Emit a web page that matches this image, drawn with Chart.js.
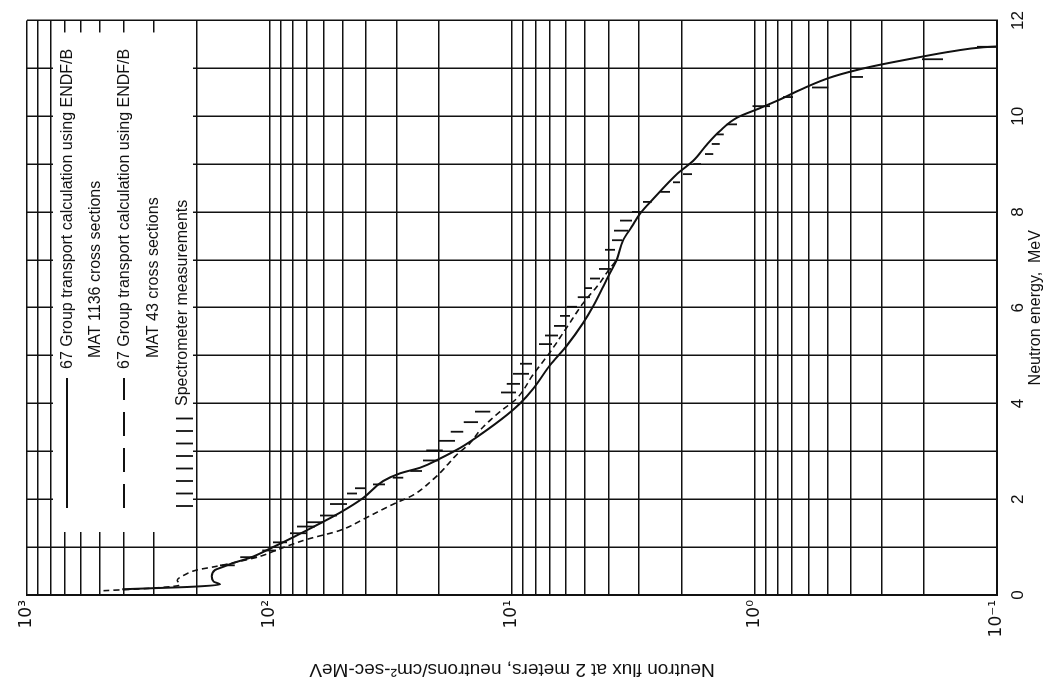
<!DOCTYPE html>
<html>
<head>
<meta charset="utf-8">
<script src="https://cdn.jsdelivr.net/npm/chart.js@4.4.0/dist/chart.umd.min.js"></script>
<style>
  html, body { margin: 0; padding: 0; background: #fff; overflow: hidden; }
  /* the figure is printed sideways: draw it upright, then turn it a quarter turn */
  #wrap {
    position: absolute; left: 0; top: 0;
    width: 688px; height: 1057px;
    transform-origin: 0 0;
    transform: translate(0, 688px) rotate(-90deg);
  }
</style>
</head>
<body>
<div id="wrap"><canvas id="fluxChart" width="688" height="1057"></canvas></div>
<script>
// 67 group transport, ENDF/B MAT 1136 (solid)
const solidEnergy = [0.12, 0.14, 0.17, 0.22, 0.28, 0.39, 0.52, 0.59, 0.67, 0.78,
  0.97, 1.10, 1.35, 1.72, 2.03, 2.38, 2.54, 2.66, 2.85, 3.07,
  3.35, 3.76, 4.00, 4.31, 4.80, 5.21, 5.69, 6.04, 6.59, 7.00,
  7.41, 7.69, 7.97, 8.28, 8.79, 9.07, 9.41, 9.69, 9.97, 10.17,
  10.35, 10.55, 10.83, 11.03, 11.21, 11.36, 11.44, 11.46]
const solidFlux = [405, 311, 213, 160, 170, 173, 168, 155, 141, 120,
  99.5, 88, 70.3, 51.2, 41.0, 34.0, 29.0, 23.9, 19.8, 16.4,
  13.5, 10.5, 9.27, 8.17, 6.97, 5.94, 5.08, 4.62, 4.07, 3.70,
  3.48, 3.21, 2.96, 2.61, 2.09, 1.79, 1.57, 1.39, 1.18, 0.948,
  0.785, 0.649, 0.473, 0.334, 0.221, 0.151, 0.114, 0.097]

// 67 group transport, ENDF/B MAT 43 (dashed)
const dashedEnergy = [0.09, 0.14, 0.21, 0.31, 0.41, 0.52, 0.60, 0.69, 0.81, 0.94,
  1.16, 1.35, 1.62, 1.90, 2.09, 2.42, 2.55, 2.93, 3.17, 3.45,
  3.83, 4.10, 4.61, 5.07, 5.59, 6.10, 6.52, 6.79, 7.00]
const dashedFlux = [484, 311, 234, 240, 226, 200, 165, 136, 109, 93.3,
  70.3, 51.2, 39.7, 30.8, 25.5, 21.1, 19.8, 16.9, 14.9, 13.5,
  11.2, 9.58, 8.17, 6.97, 5.94, 5.08, 4.34, 3.99, 3.70]

// spectrometer measurements: each one is a bar from high to low flux
const measEnergy = [0.62, 0.79, 0.93, 1.10, 1.29, 1.43, 1.52, 1.66, 1.90, 2.12,
  2.23, 2.31, 2.45, 2.59, 2.81, 3.02, 3.22, 3.41, 3.61, 3.83,
  4.23, 4.41, 4.62, 4.83, 5.24, 5.42, 5.62, 5.83, 6.02, 6.22,
  6.41, 6.61, 6.81, 7.21, 7.41, 7.61, 7.82, 8.00, 8.21, 8.42,
  8.62, 8.79, 9.00, 9.21, 9.42, 9.62, 9.83, 10.21, 10.40, 10.60,
  10.82, 11.19, 11.45]
const measFluxHigh = [160, 132, 107, 96.8, 82.3, 77.1, 70.0, 61.9, 56.3, 47.9,
  44.4, 37.4, 31.0, 26.3, 23.3, 22.6, 20.0, 17.9, 15.8, 14.2,
  11.1, 10.5, 9.91, 9.27, 7.74, 7.31, 6.71, 6.34, 5.93, 5.35,
  5.05, 4.77, 4.38, 4.14, 3.87, 3.80, 3.59, 3.20, 2.88, 2.45,
  2.17, 1.97, 1.79, 1.60, 1.50, 1.43, 1.30, 1.02, 0.763, 0.579,
  0.404, 0.204, 0.121]
const measFluxLow = [139, 113, 94, 84.7, 70.0, 64.9, 60.2, 52.7, 47.9, 43.6,
  40.0, 33.4, 28.1, 23.5, 20.2, 19.3, 17.2, 15.9, 13.8, 12.3,
  9.63, 9.27, 8.51, 8.27, 6.84, 6.46, 5.99, 5.77, 5.40, 4.77,
  4.68, 4.34, 3.91, 3.76, 3.52, 3.32, 3.20, 2.91, 2.65, 2.23,
  2.03, 1.81, 1.66, 1.48, 1.39, 1.34, 1.18, 0.863, 0.694, 0.497,
  0.357, 0.167, 0.100]

// axes
const fluxTickValues = [0.1, 1, 10, 100, 1000]
const fluxTickLabels = ["10\u207B\u00B9", "10\u2070", "10\u00B9", "10\u00B2", "10\u00B3"]
const energyTickLabels = [0, 2, 4, 6, 8, 10, 12]

const legendLines = [
  ["67 Group transport calculation using ENDF/B", "MAT 1136 cross sections"],
  ["67 Group transport calculation using ENDF/B", "MAT 43 cross sections"],
  ["Spectrometer measurements"],
]

const INK = "#111"
const FONT = "'Liberation Sans', Arial, sans-serif"

// full log grid: 1..9 in every decade
const fluxGrid = []
fluxTickValues.slice(0, -1).forEach((d) => {
  for (let m = 1; m < 10; m++) fluxGrid.push(+(m * d).toPrecision(3))
})
fluxGrid.push(fluxTickValues[fluxTickValues.length - 1])

const toPoints = (xs, ys) => xs.map((x, i) => ({ x, y: ys[i] }))

const measPoints = []
measEnergy.forEach((e, i) => {
  measPoints.push({ x: e, y: measFluxHigh[i] }, { x: e, y: measFluxLow[i] }, { x: e, y: null })
})

// legend sits in a white box in the upper left of the plot
const boxLegend = {
  id: "boxLegend",
  beforeDatasetsDraw(chart) {
    const { ctx, chartArea: a } = chart
    const x0 = a.left + 87
    ctx.save()
    ctx.fillStyle = "#fff"
    ctx.fillRect(a.left + 63, a.top + 26, a.right - a.left - 75, 140)

    ctx.strokeStyle = INK
    ctx.fillStyle = INK
    ctx.font = "16px " + FONT
    ctx.textBaseline = "alphabetic"

    // solid
    ctx.lineWidth = 2
    ctx.beginPath()
    ctx.moveTo(x0, a.top + 40)
    ctx.lineTo(x0 + 130, a.top + 40)
    ctx.stroke()
    ctx.fillText(legendLines[0][0], x0 + 139, a.top + 45)
    ctx.fillText(legendLines[0][1], x0 + 150, a.top + 73)

    // dashed
    ctx.setLineDash([24, 12])
    ctx.beginPath()
    ctx.moveTo(x0, a.top + 97)
    ctx.lineTo(x0 + 130, a.top + 97)
    ctx.stroke()
    ctx.setLineDash([])
    ctx.fillText(legendLines[1][0], x0 + 139, a.top + 102)
    ctx.fillText(legendLines[1][1], x0 + 150, a.top + 131)

    // measurement bars
    ctx.lineWidth = 1.8
    for (let k = 0; k < 8; k++) {
      const x = x0 + 2 + k * 12.5
      ctx.beginPath()
      ctx.moveTo(x, a.top + 149)
      ctx.lineTo(x, a.top + 166)
      ctx.stroke()
    }
    ctx.fillText(legendLines[2][0], x0 + 102, a.top + 160)
    ctx.restore()
  },
}

const ctx = document.getElementById("fluxChart").getContext("2d")
new Chart(ctx, {
  type: "line",
  data: {
    datasets: [
      {
        label: "67 Group transport calculation using ENDF/B MAT 1136 cross sections",
        data: toPoints(solidEnergy, solidFlux),
        borderColor: INK,
        borderWidth: 2,
        pointRadius: 0,
        cubicInterpolationMode: "monotone",
      },
      {
        label: "67 Group transport calculation using ENDF/B MAT 43 cross sections",
        data: toPoints(dashedEnergy, dashedFlux),
        borderColor: INK,
        borderWidth: 1.6,
        borderDash: [6, 4],
        pointRadius: 0,
        cubicInterpolationMode: "monotone",
      },
      {
        label: "Spectrometer measurements",
        data: measPoints,
        borderColor: INK,
        borderWidth: 1.8,
        pointRadius: 0,
        spanGaps: false,
      },
    ],
  },
  options: {
    responsive: false,
    animation: false,
    layout: { padding: { top: 27, right: 15, bottom: 0, left: 0 } },
    plugins: {
      legend: { display: false },
      tooltip: { enabled: false },
    },
    scales: {
      x: {
        type: "linear",
        position: "bottom",
        min: 0,
        max: 12,
        afterFit: (s) => { s.height = 60 },
        ticks: {
          stepSize: 1,
          autoSkip: false,
          maxRotation: 0,
          padding: 11,
          color: INK,
          font: { family: FONT, size: 17 },
          callback: (v) => (energyTickLabels.includes(v) ? String(v) : ""),
        },
        grid: { color: INK, lineWidth: 1.5, drawTicks: false },
        border: { color: INK, width: 2 },
        title: {
          display: true,
          text: "Neutron energy,  MeV",
          color: INK,
          font: { family: FONT, size: 16 },
          padding: { top: 0, bottom: 12 },
        },
      },
      y: {
        type: "logarithmic",
        position: "left",
        min: 0.1,
        max: 1000,
        afterFit: (s) => { s.width = 93 },
        afterBuildTicks: (s) => { s.ticks = fluxGrid.map((value) => ({ value })) },
        ticks: {
          autoSkip: false,
          padding: 5,
          color: INK,
          font: { family: "'DejaVu Sans', sans-serif", size: 17 },
          callback: (v) => {
            const i = fluxTickValues.indexOf(v)
            return i >= 0 ? fluxTickLabels[i] : ""
          },
        },
        grid: { color: INK, lineWidth: 1.5, drawTicks: false },
        border: { color: INK, width: 2 },
        title: {
          display: true,
          text: "Neutron flux at 2 meters, neutrons/cm\u00B2-sec-MeV",
          color: INK,
          font: { family: FONT, size: 19 },
          padding: { top: 7, bottom: 0 },
        },
      },
    },
  },
  plugins: [boxLegend],
})
</script>
</body>
</html>
